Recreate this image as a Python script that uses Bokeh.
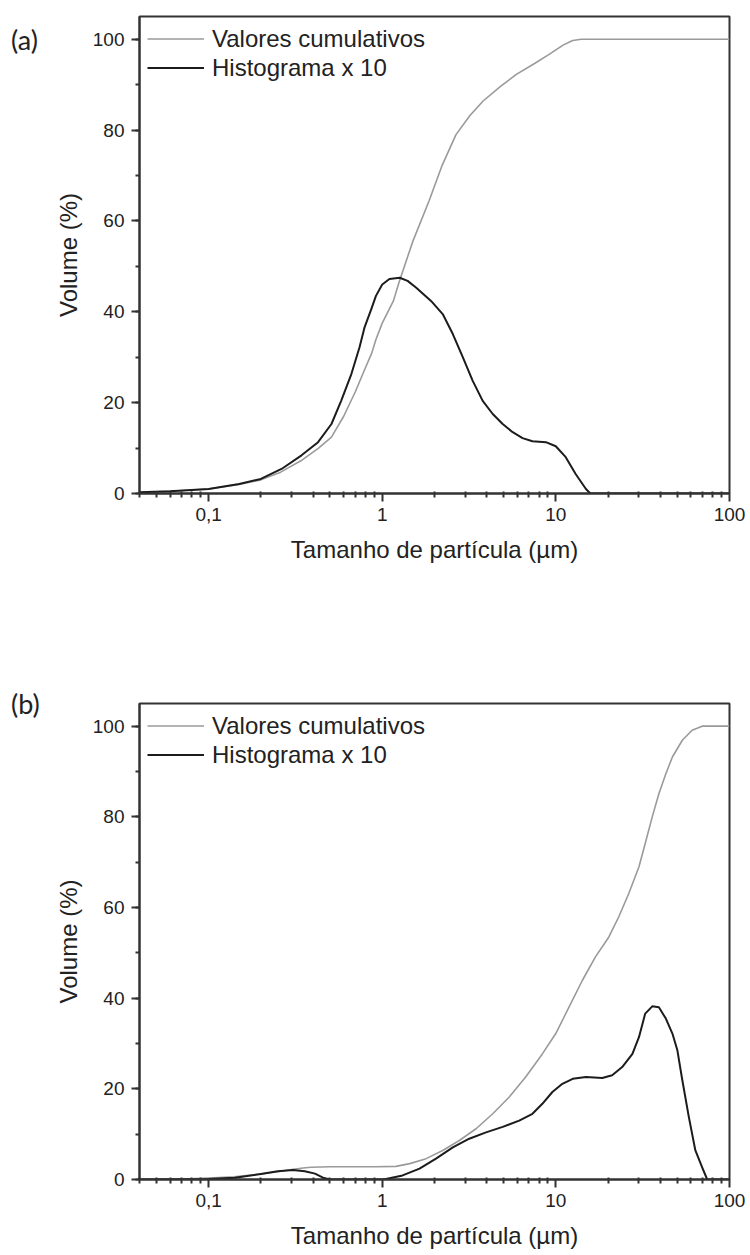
from bokeh.plotting import figure
from bokeh.models import (FixedTicker, SingleIntervalTicker, CustomJSTickFormatter,
                          Legend, LegendItem, Range1d, Div)
from bokeh.layouts import column, row
from bokeh.embed import file_html
from bokeh.resources import INLINE

# ---------------- data ----------------
x_major_ticks = [0.1, 1, 10, 100]
x_minor_ticks = [0.04, 0.05, 0.06, 0.07, 0.08, 0.09,
                 0.2, 0.3, 0.4, 0.5, 0.6, 0.7, 0.8, 0.9,
                 2, 3, 4, 5, 6, 7, 8, 9,
                 20, 30, 40, 50, 60, 70, 80, 90]
legend_labels = ["Valores cumulativos", "Histograma x 10"]
panel_tags = ["(a)", "(b)"]

# Panel (a)
a_cum_x = [0.04, 0.06, 0.1, 0.15, 0.2, 0.26, 0.34, 0.43, 0.51, 0.6, 0.7, 0.79, 0.87, 0.92,
           1.0, 1.16, 1.25, 1.5, 1.86, 2.2, 2.66, 3.2, 3.81, 4.8, 5.89, 7.5, 9.1, 11,
           12.5, 14, 100]
a_cum_y = [0.2, 0.5, 1.0, 2.0, 3.0, 4.7, 7.2, 10.0, 12.4, 17.0, 22.4, 27.2, 30.9, 33.9,
           37.5, 42.4, 46.5, 55.5, 64.4, 72.0, 79.0, 83.2, 86.4, 89.6, 92.2, 94.6, 96.6,
           98.7, 99.7, 100, 100]

a_hist_x = [0.04, 0.06, 0.1, 0.15, 0.2, 0.263, 0.343, 0.427, 0.51, 0.58, 0.664, 0.74,
            0.79, 0.865, 0.92, 1.0, 1.1, 1.26, 1.4, 1.57, 1.91, 2.23, 2.55, 2.91, 3.32,
            3.79, 4.33, 4.94, 5.64, 6.43, 7.33, 8.76, 9.99, 11.4, 13.0, 14.9, 15.8, 20, 100]
a_hist_y = [0.3, 0.5, 1.0, 2.1, 3.2, 5.4, 8.4, 11.3, 15.3, 20.4, 26.3, 32.2,
            36.5, 40.6, 43.5, 46.0, 47.2, 47.5, 46.8, 45.3, 42.4, 39.5, 35.1, 30.0, 24.8,
            20.4, 17.5, 15.3, 13.5, 12.2, 11.5, 11.3, 10.4, 8.0, 4.3, 1.0, 0.0, 0.0, 0.0]

# Panel (b)
b_cum_x = [0.04, 0.07, 0.1, 0.14, 0.2, 0.25, 0.3, 0.35, 0.39, 0.5, 0.7, 0.92, 1.2, 1.44,
           1.79, 2.23, 2.78, 3.47, 4.33, 5.39, 6.7, 8.36, 9.99, 11.9, 14.2, 16.9, 20.2,
           23.0, 26.3, 30.1, 32.7, 35.9, 39.2, 43.0, 46.9, 53.5, 60.9, 69.6, 100]
b_cum_y = [0.0, 0.1, 0.3, 0.6, 1.2, 1.7, 2.2, 2.55, 2.7, 2.8, 2.8, 2.8, 2.9, 3.5,
           4.6, 6.4, 8.6, 11.2, 14.5, 18.2, 22.6, 27.7, 32.2, 38.0, 43.9, 49.1, 53.5,
           57.9, 63.1, 69.0, 74.1, 80.0, 85.1, 89.5, 93.2, 96.9, 99.1, 100, 100]

b_hist_x = [0.04, 0.07, 0.1, 0.142, 0.2, 0.25, 0.307, 0.358, 0.41, 0.456, 0.5, 1.0,
            1.05, 1.31, 1.64, 2.04, 2.55, 3.17, 3.96, 4.94, 6.15, 7.33, 8.36, 9.55,
            10.9, 12.5, 14.9, 18.5, 21.1, 24.1, 27.6, 30.1, 32.7, 35.9, 39.2, 43.0,
            46.9, 50.1, 53.5, 58.3, 63.6, 69.6, 74.4, 100]
b_hist_y = [0.0, 0.05, 0.1, 0.4, 1.2, 1.8, 2.1, 1.8, 1.3, 0.4, 0.0, 0.0,
            0.1, 0.9, 2.4, 4.6, 7.1, 9.0, 10.4, 11.6, 13.0, 14.5, 16.7, 19.3,
            21.1, 22.2, 22.6, 22.4, 23.0, 24.8, 27.7, 31.4, 36.6, 38.2, 38.0, 35.5,
            32.2, 28.5, 21.9, 13.8, 6.4, 2.7, 0.0, 0.0]

# ---------------- styling ----------------
FONT = "Liberation Sans"
TXT = "#222222"
GRAY = "#9a9a9a"
BLACK = "#1c1c1c"
TAG_W = 48


def make_panel(height, top, bottom, cum_x, cum_y, hist_x, hist_y):
    p = figure(width=750 - TAG_W, height=height, x_axis_type="log",
               x_range=Range1d(0.04, 100), y_range=Range1d(0, 105),
               output_backend="svg", toolbar_location=None,
               min_border_left=139 - TAG_W, min_border_right=21,
               min_border_top=top, min_border_bottom=bottom,
               background_fill_color="white", border_fill_color="white")
    p.xgrid.visible = False
    p.ygrid.visible = False
    p.outline_line_color = "#333333"
    p.outline_line_width = 2

    r_cum = p.line(cum_x, cum_y, line_color=GRAY, line_width=1.6, line_join="round")
    r_hist = p.line(hist_x, hist_y, line_color=BLACK, line_width=2.0, line_join="round")

    # x axis
    xa = p.xaxis[0]
    xa.ticker = FixedTicker(ticks=x_major_ticks, minor_ticks=x_minor_ticks)
    xa.formatter = CustomJSTickFormatter(
        code="return tick < 1 ? tick.toString().replace('.', ',') : tick.toFixed(0);")
    xa.axis_label = "Tamanho de partícula (µm)"
    # y axis
    ya = p.yaxis[0]
    ya.ticker = SingleIntervalTicker(interval=20, num_minor_ticks=2)
    ya.axis_label = "Volume (%)"

    for ax in (xa, ya):
        ax.axis_line_color = "#333333"
        ax.axis_line_width = 2
        ax.major_tick_line_color = "#333333"
        ax.major_tick_line_width = 2
        ax.minor_tick_line_color = "#333333"
        ax.minor_tick_line_width = 2
        ax.major_tick_out = 8
        ax.major_tick_in = 0
        ax.major_label_text_font = FONT
        ax.major_label_text_font_size = "19px"
        ax.major_label_text_color = TXT
        ax.axis_label_text_font = FONT
        ax.axis_label_text_font_size = "24px"
        ax.axis_label_text_font_style = "normal"
        ax.axis_label_text_color = TXT
    xa.minor_tick_out = 4
    xa.minor_tick_in = 2
    ya.minor_tick_out = 4
    ya.minor_tick_in = 0
    xa.major_label_standoff = 6
    ya.major_label_standoff = 7
    xa.axis_label_standoff = 12
    ya.axis_label_standoff = 8

    legend = Legend(items=[LegendItem(label=legend_labels[0], renderers=[r_cum]),
                           LegendItem(label=legend_labels[1], renderers=[r_hist])],
                    location="top_left", margin=0, padding=8, spacing=0,
                    glyph_width=57, glyph_height=29, label_height=29,
                    label_standoff=8, border_line_alpha=0, background_fill_alpha=0,
                    label_text_font=FONT, label_text_font_size="24px",
                    label_text_color=TXT)
    p.add_layout(legend)
    return p


def make_tag(text, height, pad_top):
    return Div(text=text, width=TAG_W, height=height, margin=0,
               styles={"font-family": "Lato", "font-size": "27px", "line-height": "27px",
                       "color": TXT, "padding-top": f"{pad_top}px",
                       "padding-left": "11px", "box-sizing": "border-box"})


pa = make_panel(640, 16, 147, a_cum_x, a_cum_y, a_hist_x, a_hist_y)
pb = make_panel(615, 63, 76, b_cum_x, b_cum_y, b_hist_x, b_hist_y)
ta = make_tag(panel_tags[0], 640, 26)
tb = make_tag(panel_tags[1], 615, 50)

layout = column(row(ta, pa, spacing=0), row(tb, pb, spacing=0), spacing=0)
open("out.html", "w").write(file_html(layout, INLINE))
